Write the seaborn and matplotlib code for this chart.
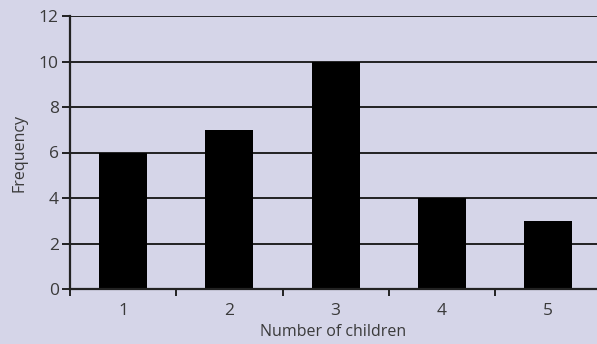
import matplotlib
matplotlib.use("Agg")
import matplotlib.pyplot as plt
import seaborn as sns
import pandas as pd
from matplotlib.ticker import FixedLocator

children = ["1", "2", "3", "4", "5"]
frequency = [6, 7, 10, 4, 3]
y_ticks = [0, 2, 4, 6, 8, 10, 12]

bg = "#d5d5e8"
txt = "#3a3a3a"

sns.set_theme(style="white")
plt.rcParams["font.family"] = ["Open Sans", "DejaVu Sans"]

df = pd.DataFrame({"children": children, "frequency": frequency})

fig = plt.figure(figsize=(5.97, 3.44), dpi=100, facecolor=bg)
ax = fig.add_axes([70 / 597, (344 - 289) / 344, 1 - 70 / 597, (289 - 16) / 344])
ax.set_facecolor(bg)

for y in y_ticks[1:]:
    ax.axhline(y, color="#222222", lw=1.4, zorder=1)

sns.barplot(data=df, x="children", y="frequency", color="black", width=0.45,
            saturation=1, ax=ax, zorder=3, edgecolor="black", linewidth=0)

ax.set_xlim(-0.5, 4.46)
ax.set_ylim(0, 12)
ax.set_yticks(y_ticks)
ax.xaxis.set_minor_locator(FixedLocator([-0.5, 0.5, 1.5, 2.5, 3.5]))
ax.tick_params(axis="x", which="major", length=0, labelsize=12.5, colors=txt, pad=10)
ax.tick_params(axis="x", which="minor", length=5, width=1.4, color="#222222", direction="out", bottom=True)
ax.tick_params(axis="y", which="major", length=6, width=1.4, color="#222222", direction="out",
               left=True, labelsize=12.5, labelcolor=txt, pad=2)

for s in ["top", "right"]:
    ax.spines[s].set_visible(False)
for s in ["left", "bottom"]:
    ax.spines[s].set_color("#222222")
    ax.spines[s].set_linewidth(1.6)
    ax.spines[s].set_zorder(4)

ax.set_xlabel("Number of children", fontsize=11.5, color=txt, labelpad=4)
ax.set_ylabel("Frequency", fontsize=11.5, color=txt, labelpad=8)

fig.savefig("out.png", dpi=100, facecolor=bg)
